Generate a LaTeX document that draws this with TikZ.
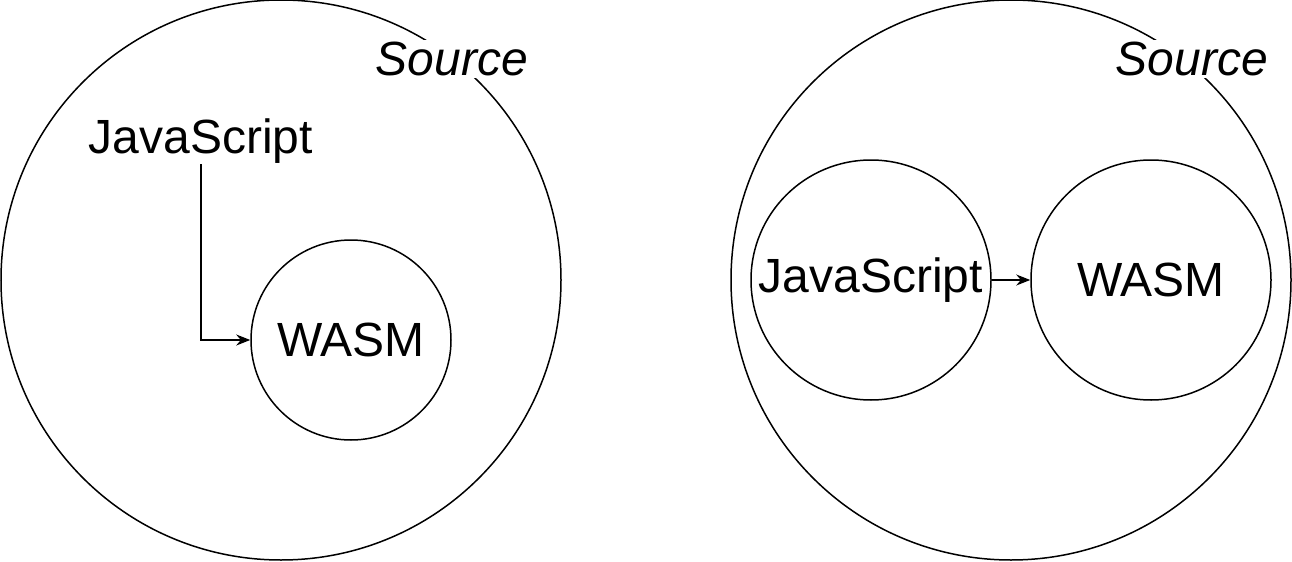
\documentclass[tikz,border=0pt]{standalone}
\usepackage{fontspec}
\setmainfont{Liberation Sans}
\usetikzlibrary{arrows.meta}

\begin{document}
\begin{tikzpicture}[x=.5pt,y=-.5pt,line width=.75pt,font=\fontsize{24}{28}\selectfont,
    ring/.style={circle,draw,inner sep=0pt},
    lbl/.style={inner sep=1pt,fill=white,font=\fontsize{24}{28}\selectfont\itshape},
    >={Stealth[length=7pt,width=5.5pt]}]
      \useasboundingbox (0,0) rectangle (1292,562);
      % left: wasm inside source
      \node[ring,minimum size=280pt] (srcl) at (281,280) {};
      \node[lbl] (srclabel) at (452,59) {Source};
      \node[inner sep=0pt] (jsl) at (201,141) {JavaScript};
      \node[ring,minimum size=100pt] (wasml) at (351,340) {WASM};
      \draw[->] (jsl.south) -- (jsl.south |- wasml.west) -- (wasml.west);
      % right: both inside source
      \node[ring,minimum size=280pt] (srcr) at (1011,280) {};
      \node[lbl] (srcrlabel) at (1192,59) {Source};
      \node[ring,minimum size=120pt] (jsr) at (871,280) {JavaScript};
      \node[ring,minimum size=120pt] (wasmr) at (1151,280) {WASM};
      \draw[->] (jsr.east) -- (wasmr.west);
    \end{tikzpicture}
\end{document}
